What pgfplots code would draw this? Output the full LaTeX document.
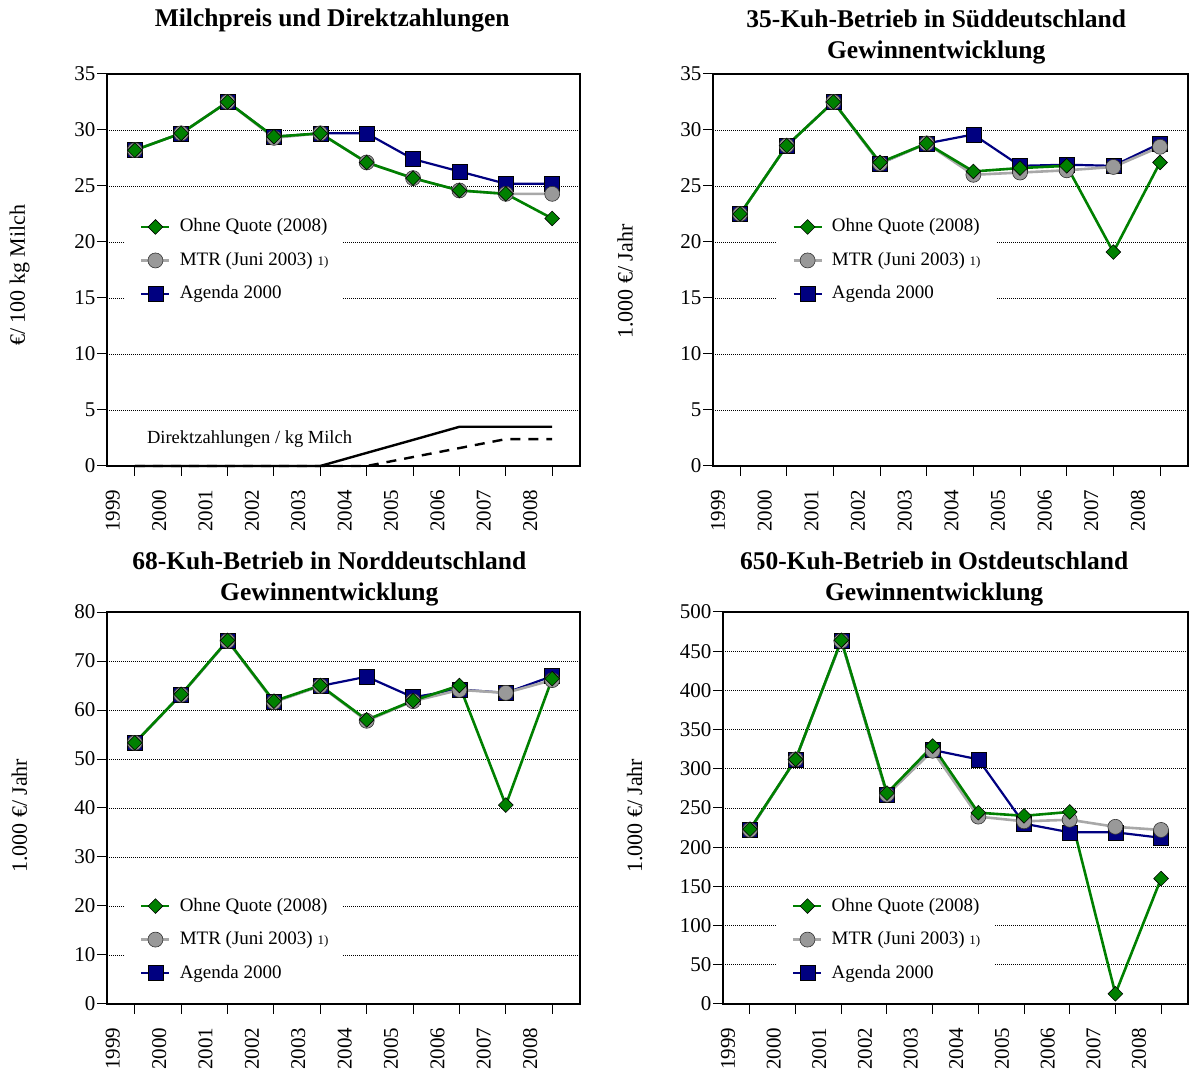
\documentclass[border=0pt]{standalone}
\usepackage{fontspec}
\setmainfont{Liberation Serif}
\usepackage{pgfplots}
\usepackage{pgfplotstable}
\pgfplotsset{compat=1.18}
\definecolor{navyc}{RGB}{0,0,128}
\definecolor{greenc}{RGB}{0,128,0}
\definecolor{grayc}{RGB}{153,153,153}
\definecolor{grayl}{RGB}{168,168,168}

\pgfplotstableread{
x ag mtr oq
0 28.2 28.2 28.2
1 29.7 29.7 29.7
2 32.5 32.5 32.5
3 29.4 29.3 29.4
4 29.7 29.7 29.7
5 29.7 27.1 27.1
6 27.4 25.7 25.7
7 26.3 24.6 24.6
8 25.2 24.3 24.3
9 25.2 24.3 22.1
}\tabA
\pgfplotstableread{
x solid dashed
0 0 0
1 0 0
2 0 0
3 0 0
4 0 0
5 1.17 0
6 2.33 0.8
7 3.5 1.6
8 3.5 2.4
9 3.5 2.4
}\tabDZ
\pgfplotstableread{
x ag mtr oq
0 22.5 22.5 22.5
1 28.6 28.6 28.6
2 32.5 32.5 32.5
3 27.0 27.0 27.1
4 28.8 28.8 28.8
5 29.6 26.0 26.3
6 26.8 26.2 26.6
7 26.9 26.4 26.8
8 26.8 26.7 19.1
9 28.8 28.5 27.1
}\tabB
\pgfplotstableread{
x ag mtr oq
0 53.3 53.3 53.3
1 63.1 63.1 63.2
2 74.1 74.1 74.2
3 61.7 61.6 61.8
4 64.9 64.9 65.0
5 66.8 57.8 58.0
6 62.6 61.8 61.9
7 64.2 64.1 65.0
8 63.5 63.5 40.6
9 66.9 66.1 66.4
}\tabC
\pgfplotstableread{
x ag mtr oq
0 222 222 223
1 312 312 312
2 463 463 464
3 267 267 269
4 324 323 329
5 312 239 244
6 230 233 240
7 219 235 245
8 219 226 13
9 212 222 160
}\tabD

\pgfplotsset{
  panel/.style={
    scale only axis, height=392pt,
    axis line style={black, line width=1.2pt},
    ymajorgrids, grid style={black, line width=0.7pt, dash pattern=on 1pt off 1pt},
    tick align=outside, major tick length=10pt,
    xtick pos=bottom, ytick pos=left,
    tick style={black, line width=1pt},
    xtick={0,...,9},
    xticklabels={1999,2000,2001,2002,2003,2004,2005,2006,2007,2008},
    xticklabel style={font=\fontsize{21}{21}\selectfont, xshift=-22pt, yshift=-10pt, rotate=90, anchor=east},
    yticklabel style={font=\fontsize{21}{21}\selectfont, inner sep=1.5pt},
    /pgf/number format/assume math mode=true,
    ylabel style={font=\fontsize{22}{22}\selectfont, anchor=center},
    title style={font=\fontsize{25.5}{31}\selectfont\bfseries, anchor=south, inner sep=0pt, align=center},
    reverse legend,
    legend cell align=left,
    legend style={anchor=north west, draw=none, fill=white, inner xsep=15pt, inner ysep=5pt,
      font=\fontsize{19}{19}\selectfont, row sep=15.5pt,
      nodes={inner sep=0pt, text height=14pt, text depth=4pt},
      /tikz/every odd column/.append style={column sep=9pt}},
    legend image code/.code={\draw[mark repeat=2,mark phase=2,##1] plot coordinates {(0pt,0pt) (14pt,0pt) (28pt,0pt)};},
  },
  agst/.style={navyc, line width=2.2pt, mark=square*, mark size=7.5pt, mark options={fill=navyc, draw=black, line width=0.6pt, solid}},
  mtrst/.style={grayl, line width=2.6pt, mark=*, mark size=7.5pt, mark options={fill=grayc, draw=black!80, line width=0.6pt, solid}},
  oqst/.style={greenc, line width=2.6pt, mark=square*, mark size=5.2pt, mark options={fill=greenc, draw=black, line width=0.6pt, rotate=45, solid}},
}

\newcommand{\legtxt}{\legend{Agenda 2000, MTR (Juni 2003) {\fontsize{13}{13}\selectfont 1)}, Ohne Quote (2008)}}

\begin{document}
\begin{tikzpicture}
\useasboundingbox (0,0) rectangle (1189pt,1076pt);

% Panel 1
\begin{axis}[panel, at={(107pt,610pt)}, anchor=south west, width=473pt, clip=false,
  xmin=-0.6, xmax=9.6, ymin=0, ymax=35, ytick distance=5,
  ylabel={€/ 100 kg Milch}, ylabel style={at={(axis description cs:-0.185,0.487)}},
  title={Milchpreis und Direktzahlungen},
  title style={at={(axis description cs:0.476,1)}, yshift=36pt},
  legend style={at={(axis description cs:0.038,0.646)}}]
\addplot[black, line width=2.4pt, forget plot] table[x=x, y=solid] {\tabDZ};
\addplot[black, line width=2.4pt, dash pattern=on 10pt off 8pt, forget plot] table[x=x, y=dashed] {\tabDZ};
\addplot[agst] table[x=x, y=ag] {\tabA};
\addplot[mtrst] table[x=x, y=mtr] {\tabA};
\addplot[oqst] table[x=x, y=oq] {\tabA};
\legtxt
\node[anchor=base west, font=\fontsize{18.5}{18.5}\selectfont, inner sep=0pt] at (axis cs:0.26,2.05) {Direktzahlungen / kg Milch};
\end{axis}

% Panel 2
\begin{axis}[panel, at={(713pt,610pt)}, anchor=south west, width=475pt,
  xmin=-0.58, xmax=9.6, ymin=0, ymax=35, ytick distance=5,
  ylabel={1.000 €/ Jahr}, ylabel style={at={(axis description cs:-0.185,0.47)}},
  title={35-Kuh-Betrieb in Süddeutschland\\Gewinnentwicklung},
  title style={at={(axis description cs:0.47,1)}, yshift=4pt},
  legend style={at={(axis description cs:0.135,0.646)}}]
\addplot[agst] table[x=x, y=ag] {\tabB};
\addplot[mtrst] table[x=x, y=mtr] {\tabB};
\addplot[oqst] table[x=x, y=oq] {\tabB};
\legtxt
\end{axis}

% Panel 3
\begin{axis}[panel, at={(107pt,72pt)}, anchor=south west, width=473pt,
  xmin=-0.6, xmax=9.6, ymin=0, ymax=80, ytick distance=10,
  ylabel={1.000 €/ Jahr}, ylabel style={at={(axis description cs:-0.185,0.48)}},
  title={68-Kuh-Betrieb in Norddeutschland\\Gewinnentwicklung},
  title style={at={(axis description cs:0.47,1)}, yshift=0pt},
  legend style={at={(axis description cs:0.038,0.286)}}]
\addplot[agst] table[x=x, y=ag] {\tabC};
\addplot[mtrst] table[x=x, y=mtr] {\tabC};
\addplot[oqst] table[x=x, y=oq] {\tabC};
\legtxt
\end{axis}

% Panel 4
\begin{axis}[panel, at={(723pt,72pt)}, anchor=south west, width=465pt,
  xmin=-0.59, xmax=9.59, ymin=0, ymax=500, ytick distance=50,
  ylabel={1.000 €/ Jahr}, ylabel style={at={(axis description cs:-0.19,0.48)}},
  title={650-Kuh-Betrieb in Ostdeutschland\\Gewinnentwicklung},
  title style={at={(axis description cs:0.454,1)}, yshift=0pt},
  legend style={at={(axis description cs:0.116,0.286)}}]
\addplot[agst] table[x=x, y=ag] {\tabD};
\addplot[mtrst] table[x=x, y=mtr] {\tabD};
\addplot[oqst] table[x=x, y=oq] {\tabD};
\legtxt
\end{axis}
\end{tikzpicture}
\end{document}
